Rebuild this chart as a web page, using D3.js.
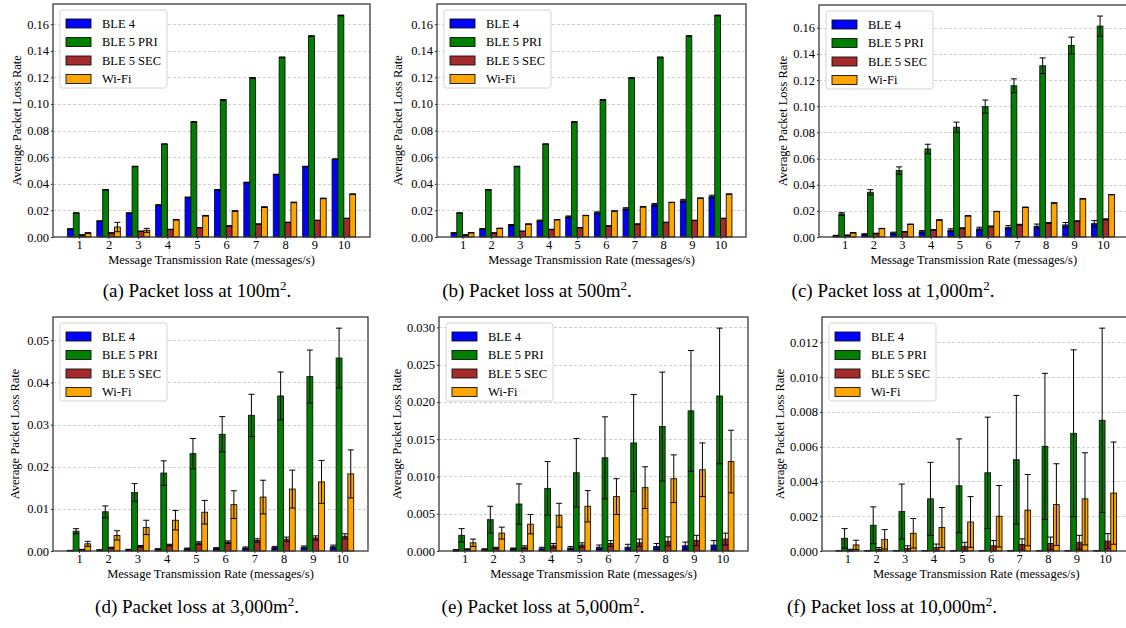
<!DOCTYPE html>
<html>
<head>
<meta charset="utf-8">
<script src="https://cdn.jsdelivr.net/npm/d3@7"></script>
<style>
  body { margin: 0; background: #fff; }
</style>
</head>
<body>
<script>
// categories and series
var rates = [1, 2, 3, 4, 5, 6, 7, 8, 9, 10]
var seriesNames = ["BLE 4", "BLE 5 PRI", "BLE 5 SEC", "Wi-Fi"]
var seriesColors = ["#0000ff", "#008000", "#a52a2a", "#ffa500"]

// (a) 100 m2 : means and errors, one row per series
var meansA = [
  [0.006, 0.012, 0.018, 0.024, 0.0298, 0.0355, 0.041, 0.047, 0.053, 0.0585],
  [0.018, 0.0355, 0.053, 0.0698, 0.0865, 0.103, 0.1195, 0.135, 0.151, 0.1665],
  [0.0015, 0.003, 0.0043, 0.0057, 0.007, 0.0083, 0.0097, 0.011, 0.0125, 0.014],
  [0.003, 0.0075, 0.005, 0.013, 0.016, 0.0195, 0.0225, 0.026, 0.029, 0.0322]
]
var errsA = [
  [0.0001, 0.0001, 0.0001, 0.0002, 0.0002, 0.0002, 0.0002, 0.0002, 0.0002, 0.0002],
  [0.0002, 0.0002, 0.0002, 0.0002, 0.0002, 0.0003, 0.0003, 0.0003, 0.0003, 0.0003],
  [0.0001, 0.0001, 0.0001, 0.0001, 0.0001, 0.0001, 0.0001, 0.0001, 0.0001, 0.0001],
  [0.0002, 0.0035, 0.0015, 0.0002, 0.0002, 0.0002, 0.0002, 0.0002, 0.0002, 0.0002]
]

// (b) 500 m2
var meansB = [
  [0.003, 0.006, 0.009, 0.0122, 0.0152, 0.0182, 0.0212, 0.0243, 0.0273, 0.0303],
  [0.018, 0.0355, 0.053, 0.0698, 0.0865, 0.103, 0.1195, 0.135, 0.151, 0.1665],
  [0.0015, 0.003, 0.0043, 0.0057, 0.007, 0.0083, 0.0097, 0.011, 0.0125, 0.014],
  [0.0032, 0.0065, 0.0097, 0.013, 0.0162, 0.0195, 0.0227, 0.026, 0.0292, 0.0322]
]
var errsB = [
  [0.0002, 0.0003, 0.0004, 0.0005, 0.0006, 0.0007, 0.0008, 0.0009, 0.001, 0.0011],
  [0.0002, 0.0002, 0.0002, 0.0002, 0.0002, 0.0003, 0.0003, 0.0003, 0.0003, 0.0003],
  [0.0001, 0.0001, 0.0001, 0.0001, 0.0001, 0.0001, 0.0001, 0.0001, 0.0001, 0.0001],
  [0.0001, 0.0001, 0.0001, 0.0001, 0.0001, 0.0001, 0.0001, 0.0001, 0.0001, 0.0001]
]

// (c) 1,000 m2
var meansC = [
  [0.001, 0.002, 0.003, 0.004, 0.0052, 0.0062, 0.0072, 0.0082, 0.0092, 0.0102],
  [0.0176, 0.0342, 0.0508, 0.0673, 0.0839, 0.0997, 0.1156, 0.1309, 0.1464, 0.1612],
  [0.0013, 0.0027, 0.004, 0.0054, 0.0067, 0.0081, 0.0094, 0.0108, 0.0121, 0.0135],
  [0.0032, 0.0065, 0.0097, 0.013, 0.0162, 0.0195, 0.0227, 0.026, 0.0292, 0.0324]
]
var errsC = [
  [0.0003, 0.0005, 0.0007, 0.0009, 0.0011, 0.0013, 0.0015, 0.0017, 0.0019, 0.0023],
  [0.001, 0.002, 0.0028, 0.0036, 0.0039, 0.005, 0.0053, 0.006, 0.0064, 0.0077],
  [0.0002, 0.0002, 0.0002, 0.0002, 0.0003, 0.0003, 0.0003, 0.0003, 0.0003, 0.0004],
  [0.0001, 0.0001, 0.0001, 0.0001, 0.0001, 0.0001, 0.0001, 0.0001, 0.0001, 0.0001]
]

// (d) 3,000 m2
var meansD = [
  [0.0001, 0.0002, 0.0003, 0.0004, 0.0005, 0.0006, 0.0007, 0.0008, 0.0009, 0.001],
  [0.0047, 0.0093, 0.0139, 0.0185, 0.0231, 0.0277, 0.0322, 0.0368, 0.0414, 0.0458],
  [0.0003, 0.0008, 0.0011, 0.0014, 0.0019, 0.0021, 0.0025, 0.0028, 0.0031, 0.0035],
  [0.0017, 0.0037, 0.0056, 0.0073, 0.0092, 0.011, 0.0128, 0.0147, 0.0164, 0.0183]
]
var errsD = [
  [0.00005, 0.0001, 0.0001, 0.00015, 0.0002, 0.0002, 0.00025, 0.0003, 0.0003, 0.0004],
  [0.0006, 0.0014, 0.0021, 0.0029, 0.0036, 0.0042, 0.005, 0.0057, 0.0063, 0.0071],
  [0.0001, 0.0001, 0.0002, 0.0002, 0.0003, 0.0003, 0.0004, 0.0005, 0.0005, 0.0006],
  [0.0006, 0.0011, 0.0017, 0.0023, 0.0028, 0.0033, 0.004, 0.0045, 0.0051, 0.0057]
]

// (e) 5,000 m2
var meansE = [
  [0.0001, 0.0002, 0.0003, 0.0003, 0.0004, 0.0005, 0.0005, 0.0006, 0.0007, 0.0008],
  [0.0021, 0.0042, 0.0063, 0.0084, 0.0105, 0.0125, 0.0145, 0.0167, 0.0188, 0.0208],
  [0.0002, 0.0004, 0.0005, 0.0007, 0.0008, 0.001, 0.0011, 0.0013, 0.0014, 0.0016],
  [0.0011, 0.0024, 0.0036, 0.0048, 0.006, 0.0073, 0.0085, 0.0097, 0.0109, 0.012]
]
var errsE = [
  [0.0001, 0.0001, 0.0001, 0.0002, 0.0002, 0.0003, 0.0004, 0.0004, 0.0005, 0.0006],
  [0.0009, 0.0018, 0.0027, 0.0036, 0.0046, 0.0055, 0.0065, 0.0073, 0.0081, 0.0091],
  [0.0001, 0.0001, 0.0002, 0.0003, 0.0003, 0.0004, 0.0005, 0.0006, 0.0007, 0.0008],
  [0.0005, 0.0008, 0.0013, 0.0016, 0.0021, 0.0024, 0.0028, 0.0032, 0.0036, 0.0042]
]

// (f) 10,000 m2
var meansF = [
  [0.00002, 0.00002, 0.00002, 0.00002, 0.00002, 0.00002, 0.00002, 0.00002, 0.00002, 0.00002],
  [0.00073, 0.00148, 0.00227, 0.003, 0.00375, 0.0045, 0.00525, 0.00602, 0.00677, 0.00752],
  [0.00005, 0.0001, 0.00015, 0.0002, 0.00025, 0.0003, 0.00037, 0.00043, 0.0005, 0.00057],
  [0.00035, 0.00067, 0.00102, 0.00135, 0.00167, 0.002, 0.00235, 0.00267, 0.003, 0.00333]
]
var errsF = [
  [0.00001, 0.00001, 0.00001, 0.00001, 0.00001, 0.00001, 0.00001, 0.00001, 0.00001, 0.00001],
  [0.00056, 0.00106, 0.00158, 0.0021, 0.0027, 0.0032, 0.0037, 0.0042, 0.0048, 0.0053],
  [0.00005, 0.0001, 0.00015, 0.0002, 0.00025, 0.0003, 0.00033, 0.00037, 0.0004, 0.00043],
  [0.00027, 0.00056, 0.00085, 0.00115, 0.00146, 0.00177, 0.00205, 0.00235, 0.00265, 0.00294]
]

// tick labels
var yTicksA = [0, 0.02, 0.04, 0.06, 0.08, 0.10, 0.12, 0.14, 0.16]
var yTicksD = [0, 0.01, 0.02, 0.03, 0.04, 0.05]
var yTicksE = [0, 0.005, 0.010, 0.015, 0.020, 0.025, 0.030]
var yTicksF = [0, 0.002, 0.004, 0.006, 0.008, 0.010, 0.012]

var captions = [
  ["(a) Packet loss at 100m", "2", "."],
  ["(b) Packet loss at 500m", "2", "."],
  ["(c) Packet loss at 1,000m", "2", "."],
  ["(d) Packet loss at 3,000m", "2", "."],
  ["(e) Packet loss at 5,000m", "2", "."],
  ["(f) Packet loss at 10,000m", "2", "."]
]

var serif = "'Liberation Serif'"

var svg = d3.select("body").append("svg")
  .attr("width", 1126)
  .attr("height", 628)

svg.append("rect").attr("width", 1126).attr("height", 628).attr("fill", "#fff")

// panel boxes: left, top, right, bottom, y label x, caption centre, caption baseline
var panels = [
  {means: meansA, errs: errsA, ticks: yTicksA, fmt: ".2f", box: [53, 4, 370, 237], ylab: 17, cx: 197, cy: 297},
  {means: meansB, errs: errsB, ticks: yTicksA, fmt: ".2f", box: [437, 4, 746, 237], ylab: 398, cx: 537, cy: 297},
  {means: meansC, errs: errsC, ticks: yTicksA, fmt: ".2f", box: [819, 5, 1128.5, 237], ylab: 783, cx: 893, cy: 297},
  {means: meansD, errs: errsD, ticks: yTicksD, fmt: ".2f", box: [53, 317, 368, 551], ylab: 15, cx: 197, cy: 613},
  {means: meansE, errs: errsE, ticks: yTicksE, fmt: ".3f", box: [439, 317, 748, 551], ylab: 397, cx: 543, cy: 613},
  {means: meansF, errs: errsF, ticks: yTicksF, fmt: ".3f", box: [822, 317, 1130.5, 551], ylab: 780, cx: 892, cy: 613}
]

function serifText(sel, size) {
  return sel.style("font-family", serif).style("font-size", size + "px").attr("fill", "#000")
}

panels.forEach(function(p, k) {
  var left = p.box[0], top = p.box[1], right = p.box[2], bottom = p.box[3]

  var x = d3.scaleLinear().domain([0.11, 10.89]).range([left, right])
  var ymax = 0
  p.means.forEach(function(row, s) {
    row.forEach(function(v, i) { ymax = Math.max(ymax, v + p.errs[s][i]) })
  })
  var y = d3.scaleLinear().domain([0, ymax * 1.05]).range([bottom, top])
  var bw = x(0.2) - x(0)

  var g = svg.append("g")

  // dashed horizontal grid
  g.selectAll(".grid").data(p.ticks.slice(1)).enter().append("line")
    .attr("x1", left).attr("x2", right)
    .attr("y1", function(d) { return Math.round(y(d)) + 0.5 })
    .attr("y2", function(d) { return Math.round(y(d)) + 0.5 })
    .attr("stroke", "#c4c4c4").attr("stroke-width", 0.8)
    .attr("stroke-dasharray", "3,2")

  // bars
  p.means.forEach(function(row, s) {
    g.selectAll(".bar" + s).data(row).enter().append("rect")
      .attr("x", function(d, i) { return x(rates[i] - 0.4 + 0.2 * s) })
      .attr("y", function(d) { return y(d) })
      .attr("width", bw)
      .attr("height", function(d) { return bottom - y(d) })
      .attr("fill", seriesColors[s])
      .attr("stroke", "#111").attr("stroke-width", 0.9)
  })

  // error bars
  p.means.forEach(function(row, s) {
    row.forEach(function(v, i) {
      var e = p.errs[s][i]
      var cxp = x(rates[i] - 0.3 + 0.2 * s)
      var y1 = y(v + e), y0 = y(Math.max(0, v - e))
      g.append("line").attr("x1", cxp).attr("x2", cxp).attr("y1", y1).attr("y2", y0)
        .attr("stroke", "#000").attr("stroke-width", 1)
      ;[y1, y0].forEach(function(yy) {
        g.append("line").attr("x1", cxp - 3).attr("x2", cxp + 3).attr("y1", yy).attr("y2", yy)
          .attr("stroke", "#000").attr("stroke-width", 1)
      })
    })
  })

  // axes
  var yAxis = g.append("g")
    .attr("transform", "translate(" + left + ",0)")
    .call(d3.axisLeft(y).tickValues(p.ticks).tickFormat(d3.format(p.fmt)).tickSize(2).tickPadding(2))
  var xAxis = g.append("g")
    .attr("transform", "translate(0," + bottom + ")")
    .call(d3.axisBottom(x).tickValues(rates).tickFormat(d3.format("d")).tickSize(2).tickPadding(1))
  ;[yAxis, xAxis].forEach(function(ax) {
    ax.attr("font-family", serif).attr("font-size", 12.5)
    ax.select(".domain").remove()
    ax.selectAll("line").attr("stroke", "#333")
    serifText(ax.selectAll("text"), 12.5)
  })

  // frame
  g.append("rect")
    .attr("x", left).attr("y", top).attr("width", right - left).attr("height", bottom - top)
    .attr("fill", "none").attr("stroke", "#3a3a3a").attr("stroke-width", 1.3)

  // axis titles
  serifText(g.append("text"), 12.5)
    .attr("x", (left + right) / 2).attr("y", bottom + 27)
    .attr("text-anchor", "middle")
    .text("Message Transmission Rate (messages/s)")

  serifText(g.append("text"), 12.5)
    .attr("transform", "translate(" + p.ylab + "," + ((top + bottom) / 2) + ") rotate(-90)")
    .attr("text-anchor", "middle")
    .attr("dy", "0.35em")
    .text("Average Packet Loss Rate")

  // legend
  var lx = left + 7, ly = top + 6
  var leg = g.append("g").attr("transform", "translate(" + lx + "," + ly + ")")
  leg.append("rect")
    .attr("width", 107).attr("height", 78).attr("rx", 2.5)
    .attr("fill", "#fff").attr("fill-opacity", 0.85)
    .attr("stroke", "#cfcfcf").attr("stroke-width", 0.9)
  seriesNames.forEach(function(name, s) {
    var ry = 13.5 + s * 18.5
    leg.append("rect")
      .attr("x", 6).attr("y", ry - 4.5).attr("width", 25).attr("height", 9)
      .attr("fill", seriesColors[s]).attr("stroke", "#111").attr("stroke-width", 0.9)
    serifText(leg.append("text"), 12.5)
      .attr("x", 42).attr("y", ry).attr("dy", "0.35em")
      .text(name)
  })

  // caption with superscript
  var cap = serifText(svg.append("text"), 19)
    .attr("x", p.cx).attr("y", p.cy)
    .attr("text-anchor", "middle")
  cap.append("tspan").text(captions[k][0])
  cap.append("tspan").attr("dy", -7).style("font-size", "13px").text(captions[k][1])
  cap.append("tspan").attr("dy", 7).text(captions[k][2])
})
</script>
</body>
</html>
